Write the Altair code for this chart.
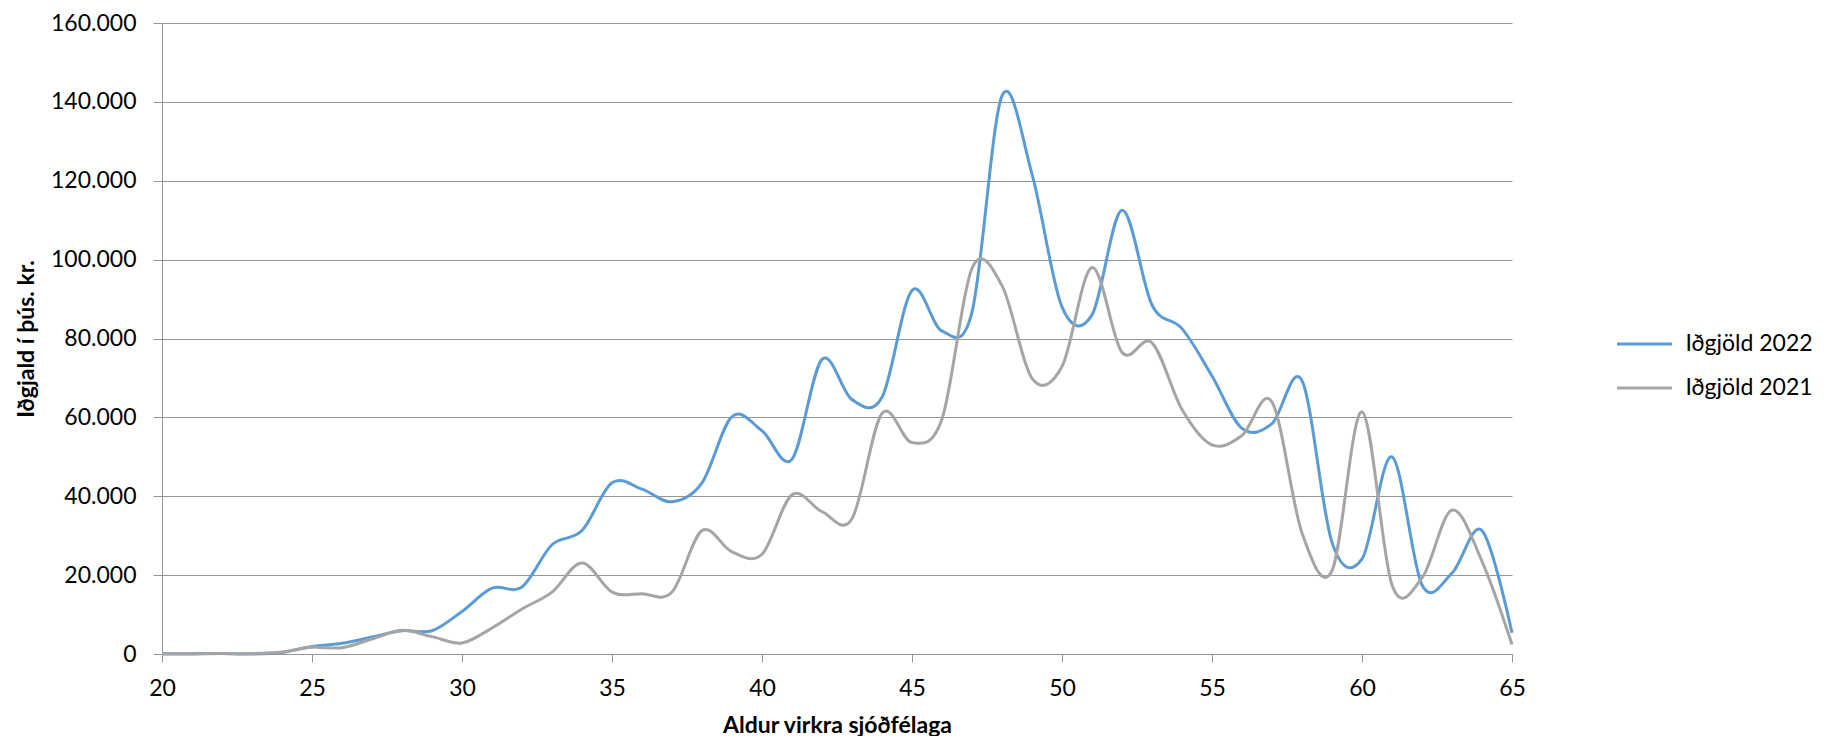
import altair as alt
import pandas as pd

ages = list(range(20, 66))

iðgjöld_2022 = [
    50, 80, 150, 0, 400, 1900, 2700, 4300, 5900, 5900,
    10800, 16700, 17000, 27700, 31300, 43400, 41800, 38600, 43400, 60200,
    56600, 49400, 74700, 64500, 65100, 92200, 81900, 86700, 141500, 121700,
    88000, 86000, 112500, 88500, 82500, 70500, 57200, 58400, 69300, 28300,
    24100, 50000, 17500, 20500, 31300, 5400,
]

iðgjöld_2021 = [
    0, 0, 100, 100, 500, 1700, 1600, 3800, 6000, 4400,
    2800, 6600, 11400, 15700, 23100, 15700, 15300, 15700, 31300, 25900,
    25300, 40400, 36100, 34300, 61000, 53600, 59600, 97800, 93400, 69900,
    72900, 98000, 76500, 78900, 62000, 53000, 55400, 63900, 30700, 21100,
    61400, 17500, 19300, 36500, 23500, 2400,
]

series_names = ["Iðgjöld 2022", "Iðgjöld 2021"]
series_colors = ["#5B9BD5", "#A5A5A5"]
x_ticks = [20, 25, 30, 35, 40, 45, 50, 55, 60, 65]
y_ticks = [0, 20000, 40000, 60000, 80000, 100000, 120000, 140000, 160000]

df = pd.DataFrame({
    "age": ages + ages,
    "value": iðgjöld_2022 + iðgjöld_2021,
    "series": [series_names[0]] * len(ages) + [series_names[1]] * len(ages),
})

FONT = "Lato"
GRID = "#969696"

chart = alt.Chart(df).mark_line(
    interpolate="cardinal", tension=0, strokeWidth=3
).encode(
    x=alt.X(
        "age:Q",
        scale=alt.Scale(domain=[20, 65], nice=False, zero=False),
        axis=alt.Axis(
            values=x_ticks, title="Aldur virkra sjóðfélaga", grid=False,
            tickSize=8, labelPadding=15, titlePadding=14,
            labelFont=FONT, labelFontSize=23, labelColor="#000000",
            titleFont=FONT, titleFontSize=23, titleFontWeight="bold", titleColor="#000000",
            domainColor=GRID, tickColor=GRID, labelFlush=False,
        ),
    ),
    y=alt.Y(
        "value:Q",
        scale=alt.Scale(domain=[0, 160000], nice=False),
        axis=alt.Axis(
            values=y_ticks, title="Iðgjald í þús. kr.", grid=True, gridColor=GRID,
            labelExpr="datum.value == 0 ? '0' : format(datum.value / 1000, 'd') + '.000'",
            tickSize=9, labelPadding=17, titlePadding=12,
            labelFont=FONT, labelFontSize=23, labelColor="#000000",
            titleFont=FONT, titleFontSize=23, titleFontWeight="bold", titleColor="#000000",
            domainColor=GRID, tickColor=GRID, labelFlush=False,
        ),
    ),
    color=alt.Color(
        "series:N",
        scale=alt.Scale(domain=series_names, range=series_colors),
        sort=series_names,
        legend=alt.Legend(
            title=None, orient="none", legendX=1460.5, legendY=299,
            padding=0, rowPadding=10, labelOffset=19, labelLimit=400,
            symbolType="M-1.34,0L1.34,0", symbolSize=1681, symbolStrokeWidth=3,
            labelFont=FONT, labelFontSize=23, labelColor="#000000",
        ),
    ),
).properties(
    width=1350,
    height=631,
    autosize=alt.AutoSizeParams(type="none"),
    padding={"left": 154, "top": 15, "right": 307, "bottom": 82},
).configure_view(stroke=None)

chart.save("out.html", embed_options={"renderer": "svg", "actions": False})
